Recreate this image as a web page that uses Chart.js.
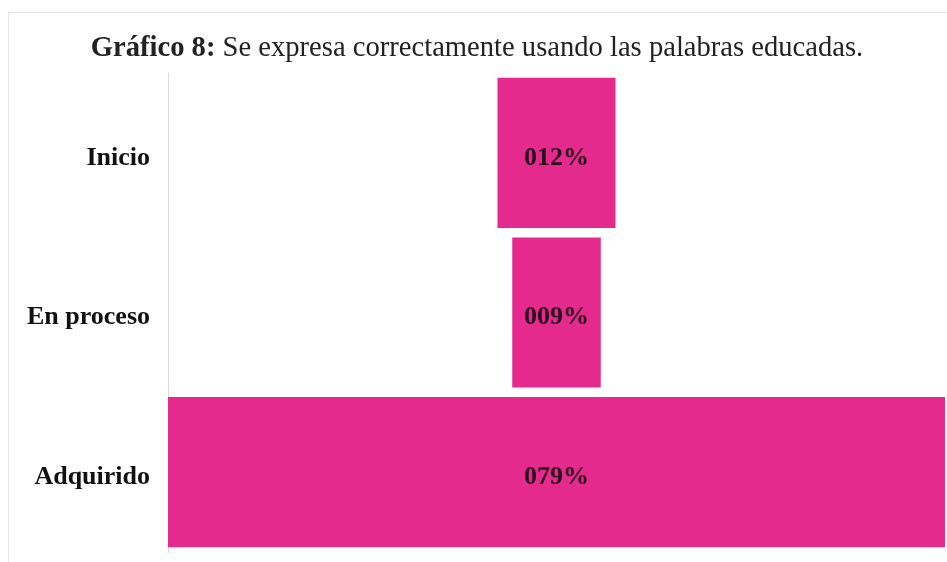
<!DOCTYPE html>
<html>
<head>
<meta charset="utf-8">
<script src="https://cdn.jsdelivr.net/npm/chart.js@4"></script>
<style>
  html, body { margin: 0; padding: 0; background: #fff; }
  #wrap { position: relative; width: 947px; height: 562px; }
  #frame { position: absolute; left: 8px; top: 12px; width: 960px; height: 560px; border: 1px solid #e4e4e4; box-sizing: border-box; }
  canvas { position: absolute; left: 0; top: 0; }
</style>
</head>
<body>
<div id="wrap">
  <div id="frame"></div>
  <canvas id="chart-canvas" width="947" height="562"></canvas>
</div>
<script>
// chart data
var categories = ["Inicio", "En proceso", "Adquirido"];
var percentages = [12, 9, 79];

var barColor = "#e42b8d";
var maxValue = Math.max.apply(null, percentages);

// centred (funnel) bars: each bar spans [mid - v/2, mid + v/2]
var floatingBars = percentages.map(function (v) {
  return [maxValue / 2 - v / 2, maxValue / 2 + v / 2];
});

// draws the mixed bold/normal title at the top
var titlePlugin = {
  id: "mixedTitle",
  afterDraw: function (chart) {
    var ctx = chart.ctx;
    var boldPart = "Gráfico 8: ";
    var normalPart = "Se expresa correctamente usando las palabras educadas.";
    ctx.save();
    ctx.textBaseline = "alphabetic";
    ctx.fillStyle = "#222";
    ctx.font = "bold 28.6px 'Liberation Serif'";
    var w1 = ctx.measureText(boldPart).width;
    ctx.font = "28.6px 'Liberation Serif'";
    var w2 = ctx.measureText(normalPart).width;
    var x = 477 - (w1 + w2) / 2;
    ctx.font = "bold 28.6px 'Liberation Serif'";
    ctx.fillText(boldPart, x, 56);
    ctx.font = "28.6px 'Liberation Serif'";
    ctx.fillText(normalPart, x + w1, 56);
    ctx.restore();
  }
};

// value labels in the middle of each bar
var valueLabelPlugin = {
  id: "valueLabels",
  afterDatasetsDraw: function (chart) {
    var ctx = chart.ctx;
    var meta = chart.getDatasetMeta(0);
    ctx.save();
    ctx.font = "bold 26px 'Liberation Serif'";
    ctx.fillStyle = "#2b0c1b";
    ctx.textAlign = "center";
    ctx.textBaseline = "middle";
    meta.data.forEach(function (bar, i) {
      var label = String(percentages[i]).padStart(3, "0") + "%";
      var cx = (bar.x + bar.base) / 2;
      ctx.fillText(label, cx, bar.y + 5);
    });
    ctx.restore();
  }
};

var ctx = document.getElementById("chart-canvas");

var chartCanvas = new Chart(ctx, {
  type: "bar",
  data: {
    labels: categories,
    datasets: [
      {
        data: floatingBars,
        backgroundColor: barColor,
        borderWidth: 0,
        barPercentage: 0.94,
        categoryPercentage: 1
      }]
  },
  options: {
    indexAxis: "y",
    responsive: false,
    animation: false,
    layout: {
      padding: { top: 73, left: 10, right: 2, bottom: 10 }
    },
    plugins: {
      legend: { display: false },
      tooltip: { enabled: false }
    },
    scales: {
      x: {
        display: false,
        min: 0,
        max: maxValue
      },
      y: {
        afterFit: function (axis) {
          axis.width = 158;
          // no extra room for half-label heights at the ends
          axis.paddingTop = 0;
          axis.paddingBottom = 0;
        },
        grid: { display: false },
        border: { display: true, color: "#dcdcdc", width: 1 },
        ticks: {
          color: "#111",
          padding: 10,
          labelOffset: 5,
          font: { family: "'Liberation Serif'", size: 26, weight: "bold" }
        }
      }
    }
  },
  plugins: [titlePlugin, valueLabelPlugin]
});
</script>
</body>
</html>
